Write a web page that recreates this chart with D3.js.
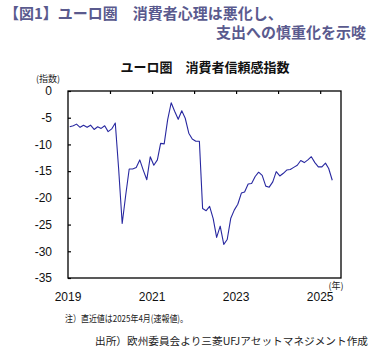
<!DOCTYPE html>
<html><head><meta charset="utf-8">
<script src="https://cdn.jsdelivr.net/npm/d3@7"></script>
<style>
html,body{margin:0;padding:0;background:#fff;}
svg{display:block;}
</style></head>
<body>
<svg id="c" width="383" height="349"></svg>
<script>
// ---- data ----
const startMonth = "2019-01";
const values = [
 -6.7,-6.5,-6.2,-6.8,-6.4,-6.8,-6.4,-7.2,-6.7,-7.0,-6.5,-7.6,
 -7.1,-6.0,-14.5,-24.8,-19.6,-14.6,-14.6,-14.3,-12.9,-14.8,-16.6,-12.3,
 -13.9,-12.9,-9.8,-9.9,-5.4,-2.2,-3.8,-5.3,-3.7,-5.1,-7.9,-9.0,
 -9.4,-9.4,-22.0,-22.4,-21.6,-23.9,-27.4,-25.3,-28.7,-27.8,-23.8,-22.3,
 -21.2,-19.1,-18.9,-17.4,-17.3,-16.0,-15.2,-15.8,-17.8,-18.0,-17.0,-15.1,
 -15.9,-15.4,-14.8,-14.7,-14.3,-13.9,-13.0,-13.4,-12.9,-12.3,-13.4,-14.2,
 -14.2,-13.5,-14.5,-16.7
];
const yTicks = [0,-5,-10,-15,-20,-25,-30,-35];
const xTickYears = [2020,2021,2022,2023,2024,2025];
const xLabelYears = ["2019","2021","2023","2025"];
const headline1 = "【図1】ユーロ圏　消費者心理は悪化し、";
const headline2 = "支出への慎重化を示唆";
const chartTitle = "ユーロ圏　消費者信頼感指数";
const yUnit = "(指数)";
const xUnit = "(年)";
const note = "注）直近値は2025年4月(速報値)。";
const source = "出所）欧州委員会より三菱UFJアセットマネジメント作成";

// ---- layout ----
const svg = d3.select("#c");
const L = 68, R = 341, T = 91, B = 278;
const parse = d3.timeParse("%Y-%m");
const t0 = parse(startMonth);
const dates = values.map((v,i)=>d3.timeDay.offset(d3.timeMonth.offset(t0,i),15));
const x = d3.scaleTime().domain([parse("2019-01"), parse("2025-07")]).range([L,R]);
const y = d3.scaleLinear().domain([-35,0]).range([B,T]);

const jp = "'Noto Sans CJK JP', sans-serif";
const num = "'Liberation Sans', Arial, sans-serif";
const headCol = "#5a5a8e";

svg.append("text").attr("x",4).attr("y",19).attr("font-family",jp).attr("font-weight","bold")
  .attr("font-size",15).attr("fill",headCol).text(headline1);
svg.append("text").attr("x",366).attr("y",38).attr("text-anchor","end").attr("font-family",jp)
  .attr("font-weight","bold").attr("font-size",15).attr("fill",headCol).text(headline2);

svg.append("text").attr("x",205).attr("y",72).attr("text-anchor","middle").attr("font-family",jp)
  .attr("font-weight","bold").attr("font-size",13).attr("fill","#111").text(chartTitle);

svg.append("text").attr("x",48).attr("y",82).attr("text-anchor","middle").attr("font-family",jp)
  .attr("font-size",9).attr("fill","#222").text(yUnit);
svg.append("text").attr("x",336).attr("y",289).attr("text-anchor","middle").attr("font-family",jp)
  .attr("font-size",9).attr("fill","#222").text(xUnit);

// left axis (ticks inward)
const yAxis = d3.axisRight(y).tickValues(yTicks).tickSize(3).tickFormat("");
svg.append("g").attr("transform",`translate(${L},0)`).call(yAxis)
  .call(g=>g.select(".domain").remove())
  .call(g=>g.selectAll("line").attr("stroke","#000").attr("stroke-width",1.2));
svg.append("g").selectAll("text").data(yTicks).join("text")
  .attr("x",52).attr("y",d=>y(d)).attr("dy","0.36em").attr("text-anchor","end")
  .attr("font-family",num).attr("font-size",12).attr("fill","#111").text(d=>d);

// top axis ticks (inward)
const xAxisTop = d3.axisBottom(x).tickValues(xTickYears.map(yr=>new Date(yr,0,1))).tickSize(3).tickFormat("");
svg.append("g").attr("transform",`translate(0,${T})`).call(xAxisTop)
  .call(g=>g.select(".domain").remove())
  .call(g=>g.selectAll("line").attr("stroke","#000").attr("stroke-width",1.2));
svg.append("g").selectAll("text").data(xLabelYears).join("text")
  .attr("x",d=>x(new Date(+d,0,1))).attr("y",301).attr("text-anchor","middle")
  .attr("font-family",num).attr("font-size",12).attr("fill","#111").text(d=>d);

// frame
svg.append("rect").attr("x",L).attr("y",T).attr("width",R-L).attr("height",B-T)
  .attr("fill","none").attr("stroke","#000").attr("stroke-width",1.3);

// line
const line = d3.line().x((d,i)=>x(dates[i])).y(d=>y(d));
svg.append("path").datum(values).attr("d",line).attr("fill","none")
  .attr("stroke","#2828a0").attr("stroke-width",1.1).attr("stroke-linejoin","round");

// notes
svg.append("text").attr("x",65).attr("y",322).attr("font-family",jp).attr("font-size",9.5)
  .attr("textLength",123).attr("lengthAdjust","spacingAndGlyphs")
  .attr("fill","#222").text(note);
svg.append("text").attr("x",95).attr("y",345).attr("font-family",jp).attr("font-size",10.5)
  .attr("textLength",273).attr("lengthAdjust","spacingAndGlyphs")
  .attr("fill","#222").text(source);
</script>
</body></html>
